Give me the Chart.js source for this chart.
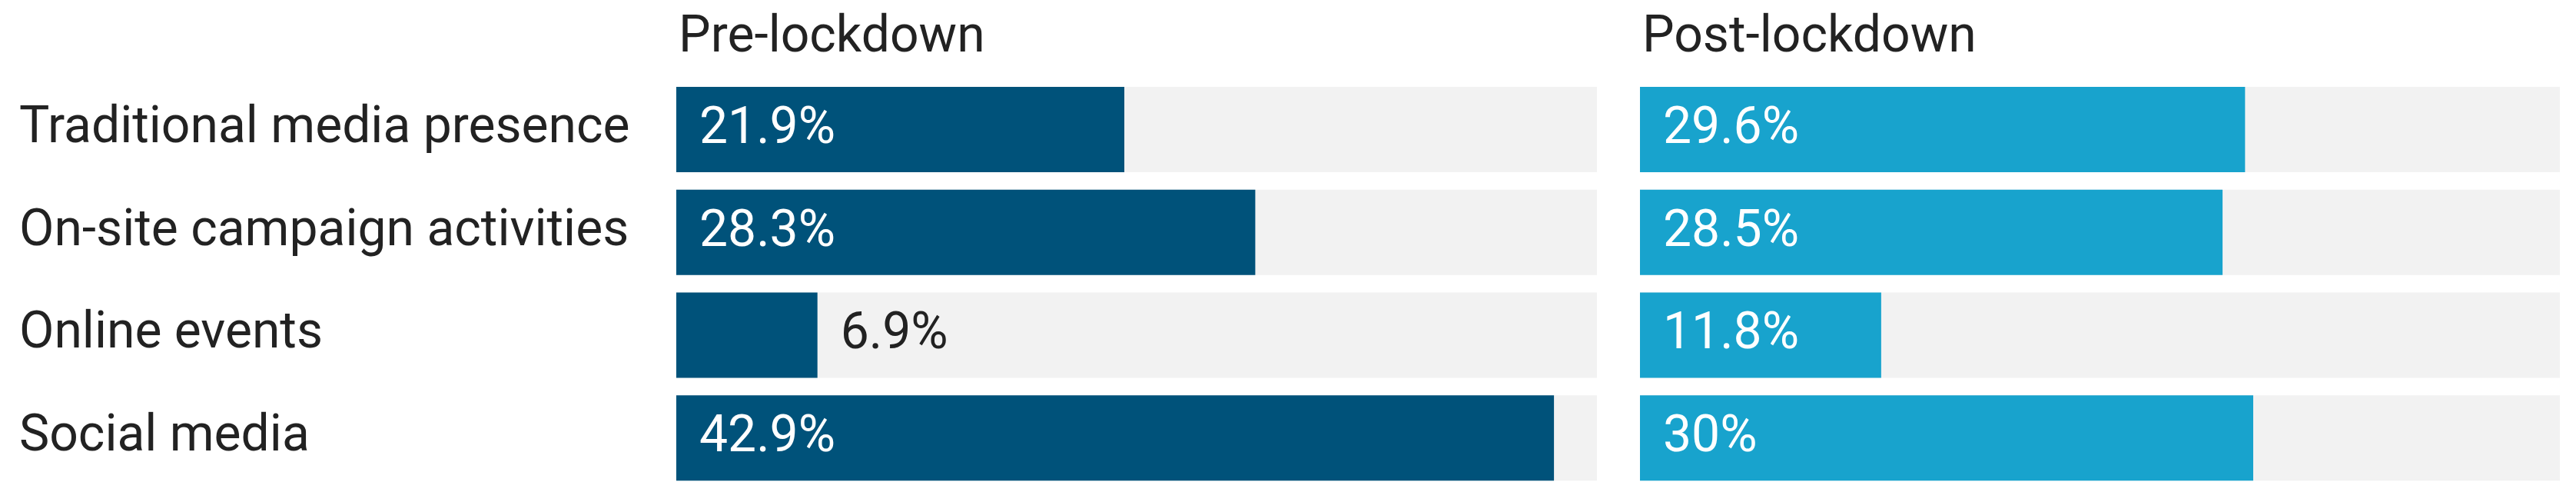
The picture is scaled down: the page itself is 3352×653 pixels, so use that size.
<!DOCTYPE html>
<html>
<head>
<meta charset="utf-8">
<title>Campaign channels, pre- and post-lockdown</title>
<script src="https://cdn.jsdelivr.net/npm/chart.js@4.4.0/dist/chart.umd.min.js"></script>
<style>
  html, body { margin: 0; padding: 0; background: #fff; }
  #wrap { position: relative; width: 3352px; height: 653px; overflow: hidden; }
  #preChart { position: absolute; left: 0; top: 0; }
  #postChart { position: absolute; left: 2134px; top: 0; }
</style>
</head>
<body>
<div id="wrap">
  <canvas id="preChart" width="2106" height="653"></canvas>
  <canvas id="postChart" width="1218" height="653"></canvas>
</div>
<script>
// ---------- data ----------
const categories = [
  'Traditional media presence',
  'On-site campaign activities',
  'Online events',
  'Social media'
];
const preLockdown = [21.9, 28.3, 6.9, 42.9];
const postLockdown = [29.6, 28.5, 11.8, 30];
const panelTitles = ['Pre-lockdown', 'Post-lockdown'];
const axisMax = 45;

// ---------- styles ----------
const FONT = 'Roboto';
const TEXT = '#222222';
const TRACK = '#f2f2f2';
const PRE_COLOR = '#00527a';
const POST_COLOR = '#18a3cd';

const fmt = (v) => v + '%';

/* draws the panel title at the left edge of the plot area */
const panelTitle = {
  id: 'panelTitle',
  afterDraw(chart, args, opts) {
    const { ctx, chartArea } = chart;
    ctx.save();
    ctx.font = `${opts.size}px ${FONT}`;
    ctx.fillStyle = TEXT;
    ctx.textAlign = 'left';
    ctx.textBaseline = 'alphabetic';
    ctx.fillText(opts.text, chartArea.left + opts.dx, opts.baseline);
    ctx.restore();
  }
};

/* value labels: white inside the bar, dark just past it when it doesn't fit */
const valueLabels = {
  id: 'valueLabels',
  afterDatasetsDraw(chart, args, opts) {
    const { ctx } = chart;
    const meta = chart.getDatasetMeta(0);
    const data = chart.data.datasets[0].data;
    ctx.save();
    ctx.font = `${opts.size}px ${FONT}`;
    ctx.textBaseline = 'middle';
    ctx.textAlign = 'left';
    meta.data.forEach((bar, i) => {
      const txt = fmt(data[i]);
      const w = ctx.measureText(txt).width;
      const barW = bar.x - bar.base;
      if (barW >= w + opts.pad * 2) {
        ctx.fillStyle = '#ffffff';
        ctx.fillText(txt, bar.base + opts.pad, bar.y + 1);
      } else {
        ctx.fillStyle = TEXT;
        ctx.fillText(txt, bar.x + opts.pad, bar.y + 1);
      }
    });
    ctx.restore();
  }
};

function makeChart(el, values, color, title, showLabels) {
  const yAxis = {
    display: showLabels,
    grid: { display: false },
    border: { display: false },
    ticks: {
      crossAlign: 'far',
      color: TEXT,
      font: { family: FONT, size: 66 }
    }
  };
  if (showLabels) {
    // fixed label column; don't let label half-heights push the plot area in
    yAxis.afterFit = (scale) => {
      scale.width = 855;
      scale.paddingTop = 0;
      scale.paddingBottom = 0;
    };
  }

  return new Chart(el, {
    type: 'bar',
    data: {
      labels: categories,
      datasets: [
        { data: values, backgroundColor: color, order: 0 },
        { data: categories.map(() => axisMax), backgroundColor: TRACK, order: 1 }
      ]
    },
    options: {
      indexAxis: 'y',
      responsive: false,
      animation: false,
      events: [],
      layout: {
        padding: { left: showLabels ? 25 : 0, right: showLabels ? 28 : 21, top: 101.6, bottom: 16.5 }
      },
      datasets: {
        bar: { grouped: false, barPercentage: 0.83, categoryPercentage: 1, borderWidth: 0 }
      },
      scales: {
        x: { display: false, min: 0, max: axisMax },
        y: yAxis
      },
      plugins: {
        legend: { display: false },
        tooltip: { enabled: false },
        title: { display: false },
        panelTitle: { text: title, size: 66, baseline: 67, dx: 3 },
        valueLabels: { size: 66, pad: 30 }
      }
    },
    plugins: [panelTitle, valueLabels]
  });
}

makeChart(document.getElementById('preChart'), preLockdown, PRE_COLOR, panelTitles[0], true);
makeChart(document.getElementById('postChart'), postLockdown, POST_COLOR, panelTitles[1], false);
</script>
</body>
</html>
